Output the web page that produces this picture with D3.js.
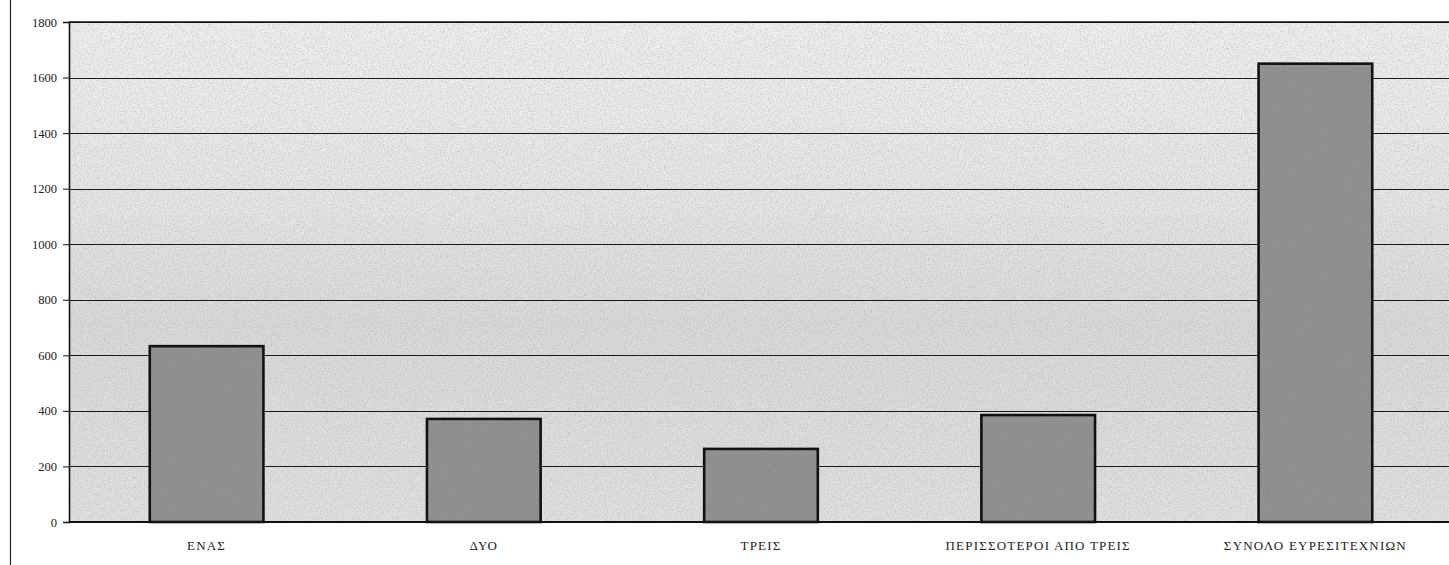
<!DOCTYPE html>
<html>
<head>
<meta charset="utf-8">
<script src="https://cdn.jsdelivr.net/npm/d3@7"></script>
<style>
  html, body { margin: 0; padding: 0; background: #fff; }
  svg { display: block; }
</style>
</head>
<body>
<svg id="chart" width="1449" height="565"></svg>
<script>
const categories = ["ΕΝΑΣ", "ΔΥΟ", "ΤΡΕΙΣ", "ΠΕΡΙΣΣΟΤΕΡΟΙ ΑΠΟ ΤΡΕΙΣ", "ΣΥΝΟΛΟ ΕΥΡΕΣΙΤΕΧΝΙΩΝ"];
const values = [633, 371, 263, 385, 1650];
const yTicks = [0, 200, 400, 600, 800, 1000, 1200, 1400, 1600, 1800];

const W = 1449, H = 565;
const margin = { left: 69, top: 22, right: -5, bottom: 43 };
const svg = d3.select("#chart");

const x = d3.scaleBand().domain(categories)
  .range([margin.left - 1, W - margin.right]).paddingInner(0.59).paddingOuter(0.295);
const y = d3.scaleLinear().domain([0, 1800]).range([H - margin.bottom, margin.top]);

const defs = svg.append("defs");
const grad = defs.append("linearGradient").attr("id", "bg").attr("x1", 0).attr("y1", 0).attr("x2", 0).attr("y2", 1);
grad.append("stop").attr("offset", "0%").attr("stop-color", "#f0f0f0");
grad.append("stop").attr("offset", "35%").attr("stop-color", "#e7e7e7");
grad.append("stop").attr("offset", "60%").attr("stop-color", "#dadada");
grad.append("stop").attr("offset", "85%").attr("stop-color", "#dedede");
grad.append("stop").attr("offset", "100%").attr("stop-color", "#e2e2e2");

const noise = defs.append("filter").attr("id", "noise").attr("x", 0).attr("y", 0).attr("width", "100%").attr("height", "100%");
noise.append("feTurbulence").attr("type", "fractalNoise").attr("baseFrequency", 0.7).attr("numOctaves", 2).attr("seed", 3).attr("result", "t");
noise.append("feColorMatrix").attr("in", "t").attr("type", "matrix")
  .attr("values", "0 0 0 0 0.35  0 0 0 0 0.35  0 0 0 0 0.35  1.8 0 0 0 -0.72");

// outer left frame line
svg.append("line").attr("x1", 10.5).attr("x2", 10.5).attr("y1", 0).attr("y2", H)
  .attr("stroke", "#222").attr("stroke-width", 1.2);

const plotX0 = margin.left, plotX1 = W;
// plot background
svg.append("rect").attr("x", plotX0).attr("y", y(1800)).attr("width", plotX1 - plotX0)
  .attr("height", y(0) - y(1800)).attr("fill", "url(#bg)");
svg.append("rect").attr("x", plotX0).attr("y", y(1800)).attr("width", plotX1 - plotX0)
  .attr("height", y(0) - y(1800)).attr("fill", "#fff").attr("filter", "url(#noise)").attr("opacity", 0.5);

// gridlines
svg.append("g").selectAll("line").data(yTicks.filter(d => d > 0)).join("line")
  .attr("x1", plotX0).attr("x2", plotX1)
  .attr("y1", d => Math.round(y(d)) + 0.5).attr("y2", d => Math.round(y(d)) + 0.5)
  .attr("stroke", "#1a1a1a").attr("stroke-width", 1.1);

// bars
const bars = svg.append("g");
bars.selectAll("rect.bar").data(values).join("rect").attr("class", "bar")
  .attr("x", (d, i) => x(categories[i]))
  .attr("y", d => y(d))
  .attr("width", x.bandwidth())
  .attr("height", d => y(0) - y(d))
  .attr("fill", "#8d8d8d").attr("stroke", "#111").attr("stroke-width", 2.6);
bars.selectAll("rect.bn").data(values).join("rect").attr("class", "bn")
  .attr("x", (d, i) => x(categories[i]) + 2)
  .attr("y", d => y(d) + 2)
  .attr("width", x.bandwidth() - 4)
  .attr("height", d => y(0) - y(d) - 4)
  .attr("fill", "#fff").attr("filter", "url(#noise)").attr("opacity", 0.6);

// y axis
const yAxis = d3.axisLeft(y).tickValues(yTicks).tickSize(6).tickPadding(6).tickFormat(d3.format("d"));
const gy = svg.append("g").attr("transform", `translate(${plotX0},0)`).call(yAxis);
gy.select(".domain").attr("stroke", "#111").attr("stroke-width", 1.6);
gy.selectAll(".tick line").attr("stroke", "#111");
gy.selectAll(".tick text").attr("font-family", "'Liberation Serif', serif").attr("font-size", 12.5).attr("fill", "#222");

// x axis baseline
const xAxis = d3.axisBottom(x).tickSize(0).tickPadding(19);
const gx = svg.append("g").attr("transform", `translate(0,${y(0)})`).call(xAxis);
gx.select(".domain").attr("stroke", "#111").attr("stroke-width", 2).attr("d", `M${plotX0},0H${plotX1}`);
gx.selectAll(".tick text").attr("font-family", "'Liberation Serif', serif").attr("font-size", 13)
  .attr("letter-spacing", "1.2px").attr("fill", "#222");

// top frame line of plot
svg.append("line").attr("x1", plotX0).attr("x2", plotX1).attr("y1", y(1800)).attr("y2", y(1800))
  .attr("stroke", "#111").attr("stroke-width", 1.6);
</script>
</body>
</html>
